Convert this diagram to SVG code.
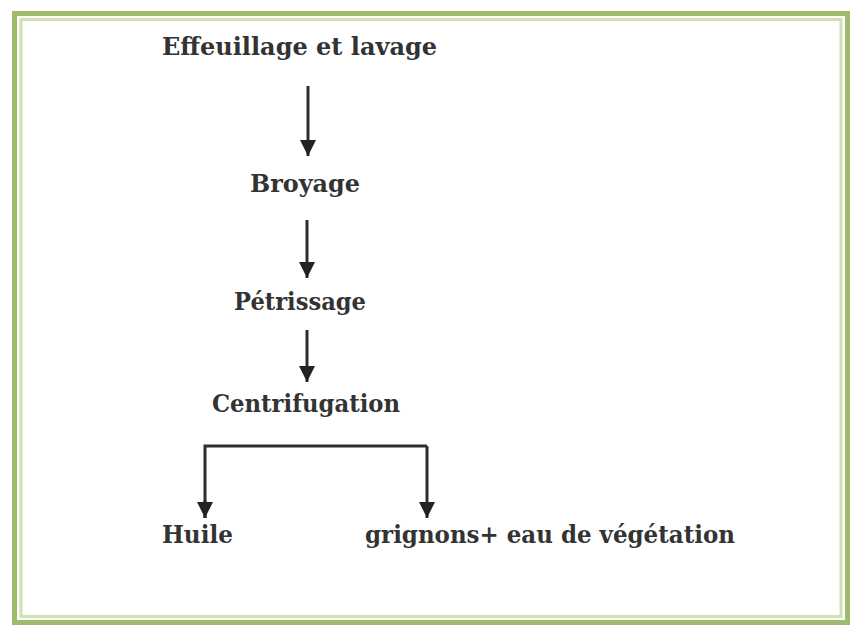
<svg xmlns="http://www.w3.org/2000/svg" width="852" height="627" viewBox="0 0 852 627">
<defs>
<style>
.t{font-family:"DejaVu Serif","Liberation Serif",serif;font-weight:bold;font-size:24px;fill:#333}
.c{stroke:#2e2e2e;stroke-width:3;fill:none}
</style>
<marker id="ah" viewBox="0 0 10 10" refX="10" refY="5" markerWidth="5.5" markerHeight="5.5" markerUnits="strokeWidth" orient="auto">
<path d="M0,0 L10,5 L0,10 Z" fill="#222"/>
</marker>
</defs>
<rect x="0" y="0" width="852" height="627" fill="#fff"/>
<rect x="14.5" y="13.5" width="833" height="609" fill="none" stroke="#9fbb6e" stroke-width="5"/>
<rect x="21" y="19.5" width="820" height="597" fill="none" stroke="#cfe0b2" stroke-width="3"/>
<g id="n1"><text class="t" x="162" y="55" textLength="275" lengthAdjust="spacingAndGlyphs">Effeuillage et lavage</text></g>
<g id="n2"><text class="t" x="250" y="192" textLength="110" lengthAdjust="spacingAndGlyphs">Broyage</text></g>
<g id="n3"><text class="t" x="234" y="310" textLength="132" lengthAdjust="spacingAndGlyphs">Pétrissage</text></g>
<g id="n4"><text class="t" x="212" y="412" textLength="188" lengthAdjust="spacingAndGlyphs">Centrifugation</text></g>
<g id="n5"><text class="t" x="162" y="543" textLength="71" lengthAdjust="spacingAndGlyphs">Huile</text></g>
<g id="n6"><text class="t" x="365" y="543" textLength="370" lengthAdjust="spacingAndGlyphs">grignons+ eau de végétation</text></g>
<g id="connectors">
<line class="c" x1="308" y1="86" x2="308" y2="156" marker-end="url(#ah)"/>
<line class="c" x1="307" y1="220" x2="307" y2="278" marker-end="url(#ah)"/>
<line class="c" x1="307" y1="330" x2="307" y2="382" marker-end="url(#ah)"/>
<polyline class="c" points="205,518 205,446 427,446"/>
<line class="c" x1="205" y1="500" x2="205" y2="518" marker-end="url(#ah)"/>
<line class="c" x1="427" y1="446" x2="427" y2="518" marker-end="url(#ah)"/>
</g>
</svg>
